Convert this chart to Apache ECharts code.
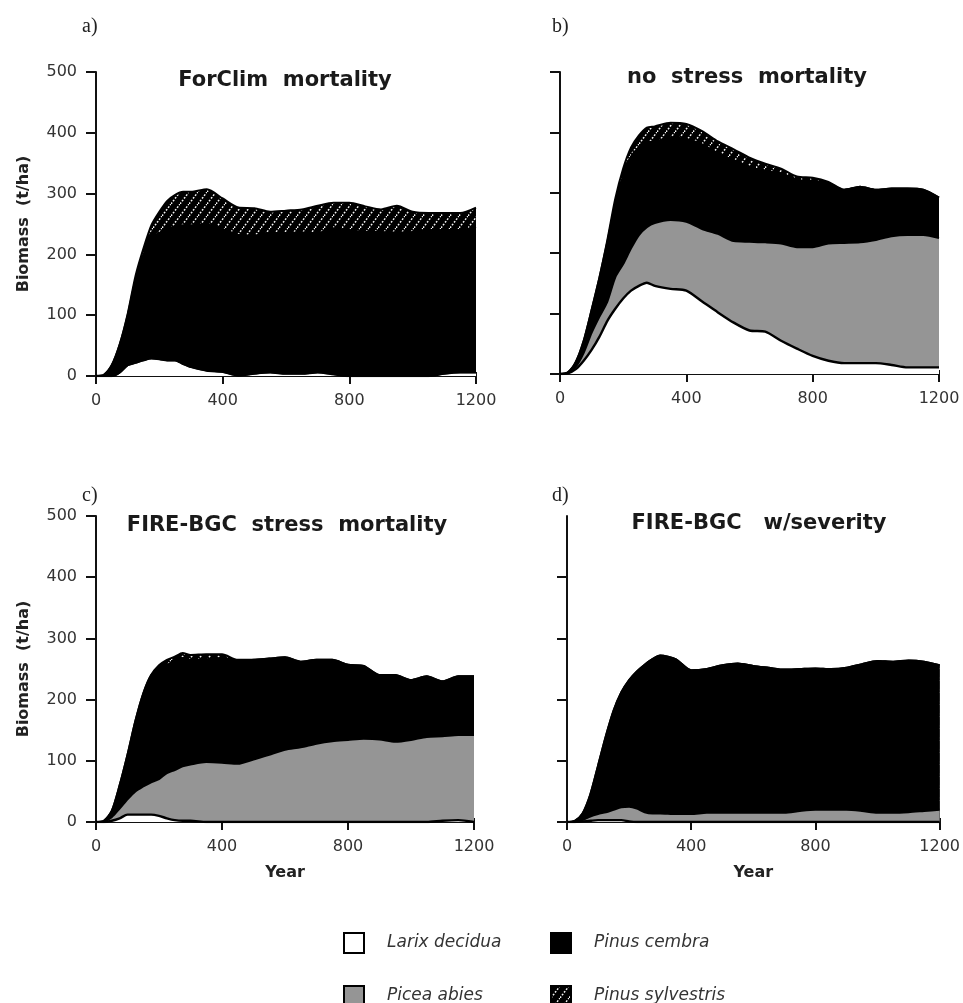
<!DOCTYPE html>
<html><head><meta charset="utf-8">
<script src="https://cdn.jsdelivr.net/npm/echarts@6/dist/echarts.min.js"></script>
<style>html,body{margin:0;padding:0;background:#fff}#c{width:963px;height:1003px}</style>
</head><body><div id="c"></div>
<script>
// ---- data ----
const years = [0,25,50,75,100,125,150,175,200,225,250,275,300,350,400,450,500,550,600,650,700,750,800,850,900,950,1000,1050,1100,1150,1200];
const speciesNames = ['Larix decidua','Picea abies','Pinus cembra','Pinus sylvestris'];
const panelTitles = ['ForClim  mortality','no  stress  mortality','FIRE-BGC  stress  mortality','FIRE-BGC   w/severity'];
const panelLetters = ['a)','b)','c)','d)'];
const yTickValues = [0,100,200,300,400,500];
const yTickValuesD = [0,100,200,300,400];
const xLabelValues = [0,400,800,1200];

// a) ForClim mortality
const larixA  = [0,0,0,6,18,22,26,29,28,26,26,20,15,9,7,1,4,6,4,4,6,3,0,0,0,0,0,0,4,6,6];
const piceaA  = [0,0,0,0,0,0,0,0,0,0,0,0,0,0,0,0,0,0,0,0,0,0,0,0,0,0,0,0,0,0,0];
const cembraA = [0,2,18,46,82,137,174,199,207,217,220,228,233,240,235,231,227,229,231,232,229,240,240,237,237,236,237,240,236,234,239];
const sylvA   = [0,0,0,0,2,6,10,20,35,45,52,55,55,58,50,45,45,35,37,38,45,42,45,42,37,44,33,28,28,28,32];
// b) no stress mortality
const larixB  = [0,1,8,22,40,62,88,108,125,138,146,151,146,141,138,120,102,85,72,70,55,42,30,22,18,18,18,15,11,11,11];
const piceaB  = [0,1,4,13,28,33,32,52,57,70,84,92,104,114,114,120,130,135,147,148,161,168,180,194,199,200,204,213,219,219,214];
const cembraB = [0,1,8,20,38,65,99,122,146,152,145,140,135,136,137,140,133,134,124,118,116,111,110,100,88,92,83,79,77,75,67];
const sylvB   = [0,0,0,0,0,0,3,8,12,15,20,25,25,25,25,22,20,18,15,12,8,6,5,2,0,0,0,0,0,0,0];
// c) FIRE-BGC stress mortality
const larixC  = [0,0,2,6,12,12,12,12,10,6,3,2,2,0,0,0,0,0,0,0,0,0,0,0,0,0,0,0,2,3,0];
const piceaC  = [0,1,6,16,25,38,46,53,60,74,82,89,92,98,97,95,102,110,118,122,128,132,134,136,135,131,134,139,138,139,142];
const cembraC = [0,1,10,38,73,115,152,175,181,177,177,177,171,168,171,168,163,157,151,140,137,133,123,119,105,109,98,99,90,96,96];
const sylvC   = [0,0,0,0,0,0,0,0,5,8,8,8,8,8,6,2,0,0,0,0,0,0,0,0,0,0,0,0,0,0,0];
// d) FIRE-BGC w/severity
const larixD  = [0,0,1,2,3,3,3,3,1,0,0,0,0,0,0,0,0,0,0,0,0,0,0,0,0,0,0,0,0,0,0];
const piceaD  = [0,0,2,7,10,13,17,21,24,22,16,14,14,13,13,15,15,15,15,15,15,18,20,20,20,18,15,15,16,18,20];
const cembraD = [0,2,11,36,79,124,162,188,207,224,241,252,258,253,235,235,241,244,240,237,234,232,231,230,232,240,248,247,248,244,236];
const sylvD   = [0,0,0,0,0,0,0,0,0,0,0,0,0,0,0,0,0,0,0,0,0,0,0,0,0,0,0,0,0,0,0];

const panelData = [
  [larixA, piceaA, cembraA, sylvA],
  [larixB, piceaB, cembraB, sylvB],
  [larixC, piceaC, cembraC, sylvC],
  [larixD, piceaD, cembraD, sylvD]
];

// ---- styles ----
function hatch() {
  const w = 9, h = 12;
  const c = document.createElement('canvas');
  c.width = w; c.height = h;
  const g = c.getContext('2d');
  g.fillStyle = '#000'; g.fillRect(0, 0, w, h);
  g.strokeStyle = '#f4f4f4'; g.lineWidth = 1.5;
  g.setLineDash([1.8, 1.6]);
  g.beginPath(); g.moveTo(0, h); g.lineTo(w, 0); g.stroke();
  return { image: c, repeat: 'repeat' };
}
const fills = ['#ffffff', '#959595', '#000000', hatch()];
const grids = [
  { left: 96, top: 72, width: 380, height: 304 },
  { left: 560, top: 72, width: 379, height: 302 },
  { left: 96, top: 516, width: 378, height: 306 },
  { left: 567, top: 516, width: 379, height: 306 }
];
const axisColor = '#111';
const sansTxt = { fontFamily: 'DejaVu Sans', fontSize: 16, color: '#333' };
const plainNum = v => String(v);

const xAxes = [], yAxes = [], series = [];
grids.forEach((g, i) => {
  xAxes.push({
    gridIndex: i, type: 'value', min: 0, max: 1200, interval: 400, position: 'bottom',
    axisLine: { show: true, lineStyle: { color: axisColor, width: 2 } },
    axisTick: { show: true, length: 8, lineStyle: { color: axisColor, width: 2 } },
    axisLabel: Object.assign({ margin: 17, customValues: xLabelValues, formatter: plainNum }, sansTxt),
    splitLine: { show: false },
    name: i >= 2 ? 'Year' : '', nameLocation: 'middle', nameGap: 43,
    nameTextStyle: { fontFamily: 'DejaVu Sans', fontWeight: 'bold', fontSize: 16, color: '#222' }
  });
  xAxes.push({
    gridIndex: i, type: 'value', min: 0, max: 1200, interval: 100, position: 'bottom', offset: 0,
    axisLine: { show: false }, axisLabel: { show: false }, splitLine: { show: false },
    axisTick: { show: true, inside: true, length: 4, lineStyle: { color: axisColor, width: 2 } }
  });
  yAxes.push({
    gridIndex: i, type: 'value', min: 0, max: 500, interval: 100,
    axisLine: { show: true, lineStyle: { color: axisColor, width: 2 } },
    axisTick: { show: true, length: 10, lineStyle: { color: axisColor, width: 2 }, customValues: i === 3 ? yTickValuesD : yTickValues },
    axisLabel: Object.assign({ show: i % 2 === 0, margin: 19, customValues: yTickValues, formatter: plainNum }, sansTxt),
    splitLine: { show: false },
    name: i % 2 === 0 ? 'Biomass  (t/ha)' : '', nameLocation: 'middle', nameGap: 64,
    nameTextStyle: { fontFamily: 'DejaVu Sans', fontWeight: 'bold', fontSize: 16, color: '#222' }
  });
  // cumulative layers (species stacked bottom-up: Larix, Picea, P. cembra, P. sylvestris)
  const arrs = panelData[i];
  const cum = arrs.map((_, s) => years.map((_, k) => {
    let t = 0; for (let q = 0; q <= s; q++) t += arrs[q][k]; return t;
  }));
  // draw top layer first so lower layers paint over it
  for (let s = 3; s >= 0; s--) {
    series.push({
      name: speciesNames[s], type: 'line', xAxisIndex: 2 * i, yAxisIndex: i,
      data: years.map((y, k) => [y, cum[s][k]]),
      symbol: 'none', showSymbol: false, smooth: 0.25,
      lineStyle: { color: '#000', width: s === 0 ? 2.4 : 2 },
      itemStyle: { color: s === 3 ? '#000' : fills[s] },
      areaStyle: { color: fills[s], opacity: 1, origin: 'start' },
      silent: true
    });
  }
});

const titles = [];
const titlePos = [[285, 70], [747, 67], [287, 515], [759, 513]];
panelTitles.forEach((t, i) => titles.push({
  text: t, left: titlePos[i][0], top: titlePos[i][1], textAlign: 'center', padding: 0,
  textStyle: { fontFamily: 'DejaVu Sans', fontWeight: 'bold', fontSize: 21, color: '#1a1a1a' }
}));
const letterPos = [[82, 17], [552, 17], [82, 486], [552, 486]];
panelLetters.forEach((t, i) => titles.push({
  text: t, left: letterPos[i][0], top: letterPos[i][1], padding: 0,
  textStyle: { fontFamily: 'Liberation Serif', fontWeight: 'normal', fontSize: 20, color: '#222' }
}));

const legendCommon = {
  icon: 'rect', itemWidth: 20, itemHeight: 20, selectedMode: false, padding: 0,
  textStyle: { fontFamily: 'DejaVu Sans', fontStyle: 'italic', fontSize: 17, color: '#333', padding: [0, 0, 0, 18] }
};
const legendItemStyles = [
  { color: '#ffffff', borderColor: '#000', borderWidth: 2 },
  { color: '#959595', borderColor: '#000', borderWidth: 2 },
  { color: '#000000', borderColor: '#000', borderWidth: 2 },
  { color: fills[3], borderColor: '#000', borderWidth: 2 }
];
const legendPos = [[343, 932], [343, 985], [550, 932], [550, 985]];
const legends = [0, 1, 2, 3].map(s => Object.assign({}, legendCommon, {
  left: legendPos[s][0], top: legendPos[s][1],
  data: [{ name: speciesNames[s], itemStyle: legendItemStyles[s], lineStyle: { width: 0 } }]
}));

const chart = echarts.init(document.getElementById('c'), null, { renderer: 'canvas' });
chart.setOption({
  animation: false,
  backgroundColor: '#fff',
  title: titles,
  legend: legends,
  grid: grids,
  xAxis: xAxes,
  yAxis: yAxes,
  series: series
});
</script>
</body></html>
